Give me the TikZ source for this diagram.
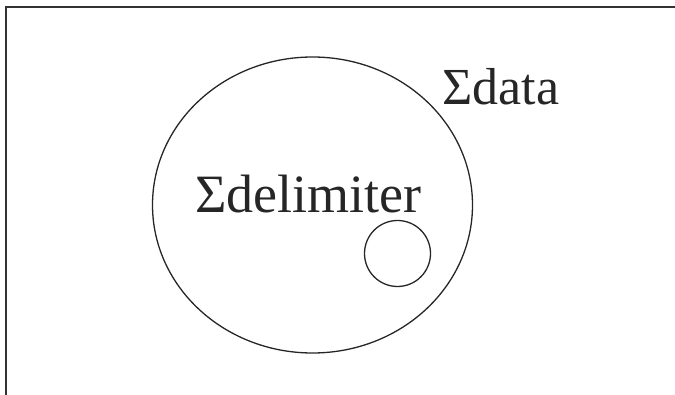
\documentclass[tikz,border=0pt]{standalone}
\usepackage{fontspec}
\setmainfont{Liberation Serif}
\begin{document}
\begin{tikzpicture}[x=1pt,y=-1pt,
  frame/.style={draw=black!80, line width=2pt},
  ring/.style={draw=black!85, line width=1.3pt},
  lbl/.style={font=\fontsize{52}{60}\selectfont, text=black!85, inner sep=0pt, anchor=base west}]
\useasboundingbox (0,0) rectangle (675,395);
\coordinate (tl) at (6,7);
\coordinate (tr) at (675,7);
\coordinate (bl) at (6,395);
\draw[frame] (tr) -- (tl) -- (bl);
\draw[ring] (312.5,205) ellipse [x radius=160, y radius=148];
\draw[ring] (397.5,253.5) circle [radius=33];
\node[lbl, font=\fontsize{54}{62}\selectfont] (delim) at (195,213) {Σdelimiter};
\node[lbl] (data) at (442,105) {Σdata};
\end{tikzpicture}
\end{document}
